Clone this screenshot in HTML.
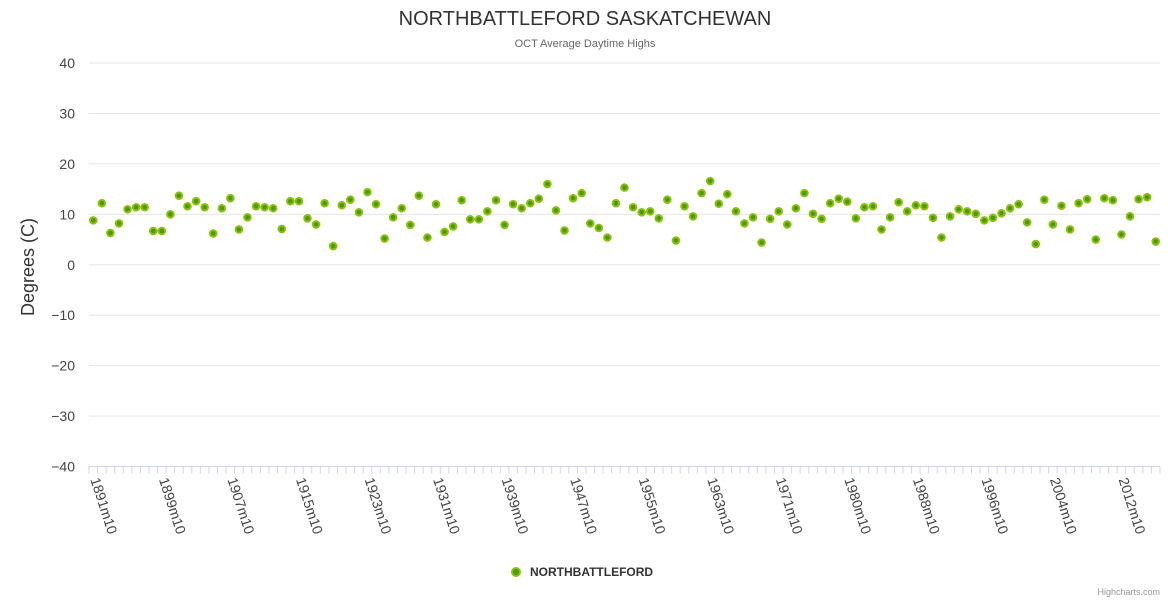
<!DOCTYPE html>
<html><head><meta charset="utf-8"><style>
body{margin:0;background:#fff;font-family:"Liberation Sans",sans-serif;}
svg text{font-family:"Liberation Sans",sans-serif;}
</style></head><body>
<svg id="chart" width="1170" height="600" xmlns="http://www.w3.org/2000/svg">
<text x="585" y="25" text-anchor="middle" font-size="20" fill="#333">NORTHBATTLEFORD SASKATCHEWAN</text>
<text x="585" y="47" text-anchor="middle" font-size="11" fill="#666">OCT Average Daytime Highs</text>
<text transform="translate(34,267) rotate(-90)" text-anchor="middle" font-size="18" fill="#333">Degrees (C)</text>
<g id="grid"></g><g id="xaxis"></g><g id="pts"></g>
<g>
<circle cx="516" cy="572" r="4" fill="#4c9900" stroke="#8cc010" stroke-width="2"/>
<text x="530" y="576" font-size="12" font-weight="bold" fill="#333">NORTHBATTLEFORD</text>
</g>
<text x="1160" y="595" text-anchor="end" font-size="9" fill="#999">Highcharts.com</text>
</svg>
<script>
const values=[8.8,12.2,6.3,8.2,11,11.4,11.4,6.7,6.7,10,13.7,11.6,12.6,11.4,6.2,11.2,13.2,7,9.4,11.6,11.4,11.2,7.1,12.6,12.6,9.2,8,12.2,3.7,11.8,12.9,10.4,14.4,12,5.2,9.4,11.2,7.9,13.7,5.4,12,6.5,7.6,12.8,9,9,10.6,12.8,7.9,12,11.2,12.2,13.1,16,10.8,6.8,13.2,14.2,8.2,7.3,5.4,12.2,15.3,11.4,10.4,10.6,9.2,12.9,4.8,11.6,9.6,14.2,16.6,12.1,14,10.6,8.2,9.4,4.4,9.1,10.6,8,11.2,14.2,10.1,9.1,12.2,13.1,12.5,9.2,11.4,11.6,7,9.4,12.4,10.6,11.8,11.6,9.3,5.4,9.6,11,10.6,10.1,8.8,9.3,10.2,11.2,12,8.4,4.1,12.9,8,11.7,7,12.2,13,5,13.2,12.8,6,9.6,13,13.4,4.6];
const years=[];
for(let y=1891;y<=2016;y++){if(y!==1979)years.push(y);}
const categories=years.map(y=>y+"m10");
const yTicks=[40,30,20,10,0,-10,-20,-30,-40];
const NS="http://www.w3.org/2000/svg";
const L=89,R=1160,T=63,B=466.5;
const step=(R-L)/categories.length;
const xs=i=>L+step*(i+0.5);
const ys=v=>T+(40-v)/80*(B-T);
function mk(tag,attrs,parent){const e=document.createElementNS(NS,tag);for(const k in attrs)e.setAttribute(k,attrs[k]);parent.appendChild(e);return e;}
const grid=document.getElementById('grid');
yTicks.forEach(t=>{
 const y=ys(t);
 if(t!==-40){const l=mk('line',{x1:L,x2:R,y1:y,y2:y,stroke:'#e6e6e6','stroke-width':1},grid);
 
 }
 const tx=mk('text',{x:75,y:y+5,'text-anchor':'end','font-size':14,fill:'#444'},grid);
 tx.textContent=String(t).replace('-','\u2212');
 
 
});
const xa=document.getElementById('xaxis');
const al=mk('line',{x1:L,x2:R,y1:B,y2:B,stroke:'#ccd6eb','stroke-width':1},xa);


for(let i=0;i<=categories.length;i++){
 const x=L+step*i;
 const t=mk('line',{x1:x,x2:x,y1:B,y2:B+7,stroke:'#ccd6eb','stroke-width':1},xa);
 
 
}
categories.forEach((c,i)=>{
 if(i%8!==0)return;
 const x=xs(i)-3;
 const tx=mk('text',{transform:`translate(${x},${B+13}) rotate(72)`,'font-size':14,fill:'#444'},xa);
 tx.textContent=c;
 
 
});
const pts=document.getElementById('pts');
values.forEach((v,i)=>{
 const c=mk('circle',{cx:xs(i),cy:ys(v),r:3.3,fill:'#4c9900',stroke:'#8cc010','stroke-width':2},pts);
 
 
});
</script>
</body></html>
